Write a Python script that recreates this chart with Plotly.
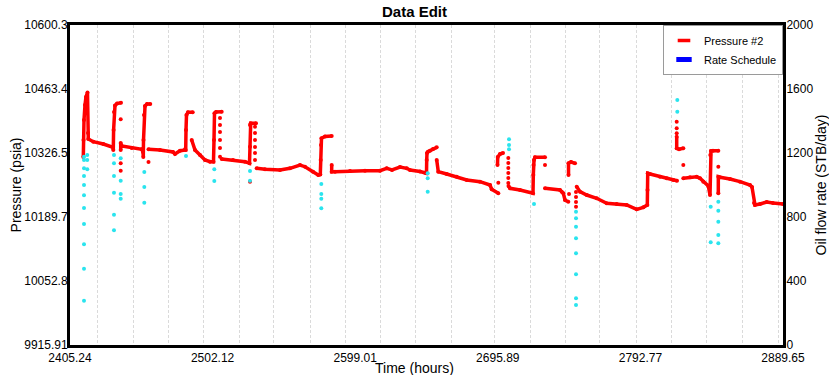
import plotly.graph_objects as go

# ---------------- text ----------------
title_text = "Data Edit"
x_title = "Time (hours)"
y_title = "Pressure (psia)"
y2_title = "Oil flow rate (STB/day)"
pressure_name = "Pressure #2"
rate_name = "Rate Schedule"

# ---------------- axes ----------------
x_range = [2405.24, 2889.65]
x_tick_values = [2405.24, 2502.12, 2599.01, 2695.89, 2792.77, 2889.65]
x_tick_labels = ["2405.24", "2502.12", "2599.01", "2695.89", "2792.77", "2889.65"]
y_range = [9915.91, 10600.3]
y_tick_values = [9915.91, 10052.79, 10189.67, 10326.54, 10463.42, 10600.3]
y_tick_labels = ["9915.91", "10052.8", "10189.7", "10326.5", "10463.4", "10600.3"]
rate_range = [0, 2000]
rate_tick_values = [0, 400, 800, 1200, 1600, 2000]

# daily vertical grid lines (hours)
day_gridlines = [2423.8, 2448.2, 2472.3, 2495.8, 2520.3, 2543.8, 2568.3, 2592.3,
                 2616.3, 2640.3, 2664.3, 2693.8, 2717.8, 2741.8, 2765.3, 2789.8,
                 2813.8, 2837.8, 2862.3, 2886.9]

# ---------------- Pressure #2 : continuous runs (hours, psia) ----------------
run_01 = [(2414.28, 10318.0), (2414.41, 10354.4), (2414.75, 10397.1), (2415.43, 10429.2),
          (2416.11, 10446.3), (2417.13, 10456.0), (2417.47, 10369.3), (2417.67, 10356.5),
          (2421.07, 10350.7), (2427.86, 10345.8), (2434.45, 10338.7), (2434.66, 10333.0),
          (2434.86, 10375.7), (2435.13, 10414.2), (2435.81, 10428.1), (2437.17, 10432.4),
          (2439.89, 10434.1)]
run_02 = [(2439.69, 10333.0), (2439.69, 10347.9), (2440.37, 10341.5), (2447.16, 10337.2),
          (2453.95, 10334.5), (2454.84, 10328.7), (2455.04, 10318.0), (2455.18, 10354.4),
          (2455.52, 10407.8), (2456.20, 10427.1), (2457.55, 10431.3), (2459.76, 10431.3)]
run_03 = [(2458.57, 10334.5), (2466.39, 10333.0), (2475.22, 10328.7), (2476.58, 10324.4),
          (2479.97, 10331.5), (2483.37, 10334.5), (2483.85, 10333.0), (2484.05, 10375.7),
          (2484.39, 10407.8), (2485.41, 10413.6), (2488.60, 10413.6)]
run_04 = [(2487.92, 10354.4), (2490.17, 10333.0), (2493.56, 10322.3), (2496.96, 10311.6),
          (2500.36, 10307.9), (2502.73, 10307.9), (2503.07, 10354.4), (2503.41, 10411.5),
          (2504.43, 10414.2), (2508.30, 10414.9)]
run_05 = [(2508.30, 10313.7), (2515.98, 10311.6), (2524.14, 10307.9), (2527.19, 10304.5),
          (2527.53, 10340.0), (2527.53, 10386.4), (2528.01, 10390.1), (2531.61, 10390.1)]
run_06 = [(2532.08, 10293.8), (2537.72, 10291.7), (2547.91, 10290.2), (2554.71, 10293.8),
          (2561.50, 10300.9), (2564.90, 10297.2), (2570.33, 10286.6), (2573.93, 10279.5),
          (2575.29, 10280.6), (2575.56, 10311.6), (2575.76, 10343.7), (2576.10, 10358.0),
          (2578.48, 10361.8), (2583.03, 10362.9)]
run_07 = [(2583.03, 10300.9), (2583.03, 10286.6), (2585.28, 10286.6), (2595.47, 10288.1),
          (2605.66, 10288.7), (2615.86, 10288.7), (2620.41, 10293.8), (2624.01, 10290.2),
          (2629.44, 10296.6), (2634.00, 10293.8), (2636.24, 10290.2), (2643.03, 10287.0),
          (2646.43, 10284.4), (2647.45, 10283.1), (2647.58, 10311.6), (2647.79, 10326.5),
          (2648.47, 10329.3), (2649.82, 10331.5), (2651.86, 10335.1), (2654.38, 10338.7)]
run_08 = [(2654.38, 10311.6), (2655.46, 10286.6), (2661.17, 10281.6), (2667.97, 10275.9),
          (2674.76, 10268.8), (2683.80, 10265.2), (2690.59, 10258.1), (2691.74, 10248.9),
          (2696.23, 10240.4)]
run_09 = [(2695.69, 10300.9), (2695.83, 10318.0), (2697.39, 10324.4), (2699.43, 10326.5)]
run_10 = [(2703.16, 10256.0), (2704.18, 10251.0), (2710.97, 10247.4), (2719.81, 10240.4),
          (2720.01, 10279.5), (2720.15, 10300.9), (2720.49, 10311.6), (2721.16, 10317.3),
          (2727.96, 10317.3)]
run_11 = [(2727.96, 10251.0), (2738.15, 10247.4), (2739.31, 10243.8), (2740.39, 10240.4),
          (2741.55, 10226.0), (2743.79, 10222.4)]
run_12 = [(2743.93, 10279.5), (2743.93, 10304.5), (2745.63, 10307.3), (2748.35, 10304.5)]
run_13 = [(2749.50, 10254.5), (2751.74, 10243.8), (2756.29, 10236.7), (2763.08, 10229.7),
          (2769.88, 10219.0), (2776.67, 10217.5), (2783.47, 10215.3), (2790.26, 10206.1),
          (2794.75, 10210.4), (2797.46, 10215.3), (2797.60, 10247.4), (2797.74, 10283.1),
          (2799.29, 10281.6), (2806.09, 10275.9), (2810.64, 10272.4), (2815.12, 10268.8),
          (2817.64, 10267.3)]
run_14 = [(2817.43, 10361.4), (2817.43, 10336.6), (2819.00, 10334.5), (2821.92, 10336.6)]
run_15 = [(2821.92, 10272.4), (2826.47, 10274.6), (2831.02, 10275.9), (2833.26, 10272.4),
          (2835.50, 10265.2), (2838.90, 10256.0), (2840.06, 10236.7), (2840.26, 10322.3),
          (2840.74, 10330.8), (2842.10, 10331.5), (2845.70, 10331.5)]
run_16 = [(2845.70, 10240.4), (2845.70, 10275.9), (2846.85, 10274.6), (2853.65, 10270.9),
          (2860.44, 10265.2), (2867.23, 10258.1), (2868.59, 10253.8), (2869.95, 10219.6),
          (2870.63, 10215.3), (2874.03, 10217.5), (2878.58, 10221.7), (2882.86, 10219.6),
          (2889.65, 10217.5)]

pressure_runs = [run_01, run_02, run_03, run_04, run_05, run_06, run_07, run_08,
                 run_09, run_10, run_11, run_12, run_13, run_14, run_15, run_16]

# isolated Pressure #2 samples (hours, psia)
pressure_isolated = [(2439.69, 10398.6), (2439.69, 10304.5), (2439.69, 10288.7), (2458.57, 10307.3),
                     (2507.15, 10401.4), (2507.15, 10386.4), (2507.15, 10371.5), (2507.15, 10354.4),
                     (2507.15, 10337.2), (2507.15, 10318.6),
                     (2530.93, 10382.8), (2530.93, 10369.3), (2530.93, 10354.4), (2530.93, 10339.4),
                     (2530.93, 10326.5), (2530.93, 10311.6), (2527.53, 10265.2),
                     (2696.23, 10263.0),
                     (2703.02, 10315.9), (2703.02, 10305.2), (2703.02, 10294.5), (2703.02, 10283.8),
                     (2703.02, 10273.1), (2703.02, 10262.4),
                     (2727.96, 10300.9), (2744.27, 10238.9),
                     (2749.02, 10243.1), (2749.02, 10232.4), (2749.02, 10221.7), (2749.02, 10211.7),
                     (2817.43, 10393.5), (2817.43, 10379.4), (2817.43, 10368.7),
                     (2821.92, 10300.9), (2845.70, 10297.2)]

# edited (flagged) samples shown in cyan (hours, psia)
edited_points = [(2414.75, 10318.6), (2414.75, 10311.6), (2414.75, 10293.8), (2414.75, 10277.4),
                 (2414.75, 10258.1), (2414.75, 10236.1), (2414.75, 10208.9), (2414.75, 10174.7),
                 (2414.75, 10131.3), (2414.75, 10079.1), (2414.75, 10010.7),
                 (2416.98, 10322.3), (2416.98, 10311.6), (2416.98, 10291.7),
                 (2435.13, 10322.3), (2435.13, 10304.5), (2435.13, 10277.4), (2435.13, 10241.6),
                 (2435.13, 10194.6), (2435.13, 10161.2),
                 (2439.69, 10315.2), (2439.69, 10267.3), (2439.69, 10238.9), (2439.69, 10228.8),
                 (2455.72, 10285.9), (2455.72, 10253.8), (2455.72, 10220.3),
                 (2484.05, 10320.1),
                 (2503.27, 10291.7), (2503.27, 10266.7),
                 (2527.53, 10288.1), (2527.53, 10267.3),
                 (2575.97, 10260.2), (2575.97, 10238.9), (2575.97, 10228.8), (2575.97, 10208.3),
                 (2648.26, 10283.1), (2648.26, 10272.4), (2648.26, 10243.8),
                 (2703.50, 10355.9), (2703.50, 10343.7), (2703.50, 10334.5),
                 (2720.49, 10217.5),
                 (2749.02, 10201.0), (2749.02, 10186.9), (2749.02, 10168.9), (2749.02, 10144.1),
                 (2749.02, 10112.0), (2749.02, 10067.1), (2749.02, 10015.8), (2749.02, 10001.5),
                 (2817.84, 10439.9), (2817.84, 10414.9),
                 (2840.53, 10211.7), (2840.53, 10135.6),
                 (2845.70, 10222.4), (2845.70, 10203.1), (2845.70, 10179.6), (2845.70, 10151.2),
                 (2845.70, 10133.4)]

# Rate schedule (no visible samples in this window)
rate_time = []
rate_value = []

# ---------------- build ----------------
px_, py_ = [], []
for run in pressure_runs:
    for t, p in run:
        px_.append(t)
        py_.append(p)
    px_.append(None)
    py_.append(None)

FONT = "Liberation Sans, Arial, sans-serif"
RED = "#ff0000"
CYAN = "#2ae4ee"

fig = go.Figure()
fig.add_trace(go.Scatter(x=px_, y=py_, mode="lines+markers", name=pressure_name,
                         line=dict(color=RED, width=3.5), marker=dict(color=RED, size=4),
                         showlegend=False, legendgroup="p"))
fig.add_trace(go.Scatter(x=[t for t, _ in pressure_isolated], y=[p for _, p in pressure_isolated],
                         mode="markers", marker=dict(color=RED, size=4),
                         showlegend=False, legendgroup="p", name=pressure_name))
fig.add_trace(go.Scatter(x=[t for t, _ in edited_points], y=[p for _, p in edited_points],
                         mode="markers", marker=dict(color=CYAN, size=4),
                         showlegend=False, name="Edited"))
# legend entries
fig.add_trace(go.Scatter(x=[None], y=[None], mode="markers", name=pressure_name,
                         legendgroup="p",
                         marker=dict(symbol="line-ew-open", size=9, color=RED,
                                     line=dict(color=RED, width=3.5))))
fig.add_trace(go.Scatter(x=rate_time if rate_time else [None], y=rate_value if rate_value else [None],
                         yaxis="y2", mode="markers", name=rate_name,
                         marker=dict(symbol="line-ew-open", size=11, color="#0000ff",
                                     line=dict(color="#0000ff", width=5.5))))

fig.update_layout(
    width=829, height=375,
    margin=dict(l=70, r=46, t=25, b=30, autoexpand=False),
    paper_bgcolor="white", plot_bgcolor="white",
    font=dict(family=FONT, size=12, color="black"),
    title=dict(text="<b>" + title_text + "</b>", x=0.5, xref="container", xanchor="center",
               y=1 - 12 / 375, yref="container", yanchor="middle",
               font=dict(size=15, color="black", family=FONT)),
    showlegend=True,
    legend=dict(x=1, y=1, xanchor="right", yanchor="top", bgcolor="white",
                bordercolor="#9a9a9a", borderwidth=1, font=dict(size=11, family=FONT),
                itemwidth=30, tracegroupgap=0),
    xaxis=dict(range=x_range, tickmode="array", tickvals=x_tick_values, ticktext=x_tick_labels,
               showgrid=False, zeroline=False, showline=True, linecolor="black", linewidth=3,
               mirror=True, ticks="", tickfont=dict(size=12),
               minor=dict(tickmode="array", tickvals=day_gridlines, showgrid=True,
                          gridcolor="#dadada", griddash="3px,2px", gridwidth=1, ticks=""),
               layer="above traces"),
    yaxis=dict(range=y_range, tickmode="array", tickvals=y_tick_values, ticktext=y_tick_labels,
               showgrid=False, zeroline=False, showline=True, linecolor="black", linewidth=3,
               mirror=True, ticks="", tickfont=dict(size=12), ticklabelstandoff=-3,
               title=dict(text=y_title, font=dict(size=14), standoff=0)),
    yaxis2=dict(range=rate_range, tickmode="array", tickvals=rate_tick_values,
                overlaying="y", side="right", showgrid=False, zeroline=False,
                showline=True, linecolor="black", linewidth=3, ticks="",
                tickfont=dict(size=12), ticklabelstandoff=-2,
                title=dict(text=y2_title, font=dict(size=14), standoff=4)),
    annotations=[dict(text=x_title, xref="paper", yref="paper",
                      x=(414.5 - 70) / 713, y=-23 / 320, xanchor="center", yanchor="middle",
                      showarrow=False, font=dict(size=14, family=FONT, color="black"))],
)

fig.write_html("out.html")
